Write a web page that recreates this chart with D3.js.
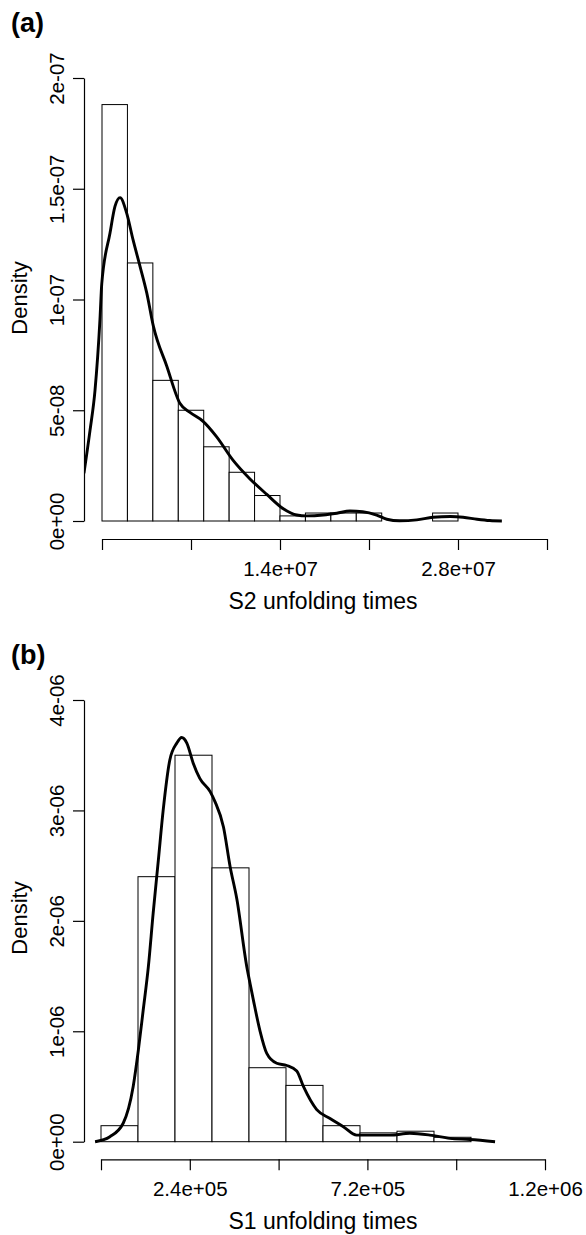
<!DOCTYPE html>
<html><head><meta charset="utf-8">
<script src="https://cdn.jsdelivr.net/npm/d3@7"></script>
<style>
body{margin:0;background:#fff}
svg{display:block}
text{font-family:"Liberation Sans",Arial,Helvetica,sans-serif;fill:#000}
</style></head><body>
<script>
// ---------- Panel (a): S2 unfolding times ----------
const binStartA = [0,2e6,4e6,6e6,8e6,10e6,12e6,14e6,16e6,18e6,20e6,22e6,24e6,26e6,28e6];
const binEndA   = [2e6,4e6,6e6,8e6,10e6,12e6,14e6,16e6,18e6,20e6,22e6,24e6,26e6,28e6,30e6];
const densA     = [1.88e-7,1.165e-7,6.35e-8,5.0e-8,3.35e-8,2.2e-8,1.15e-8,2.3e-9,3.6e-9,3.6e-9,3.6e-9,0,0,3.6e-9,0];
const kdeXA = [-1.42e6,-0.94e6,-0.55e6,-0.16e6,-0.02e6,0.63e6,1.02e6,1.42e6,1.94e6,2.44e6,2.99e6,3.52e6,4.04e6,5.09e6,6.14e6,6.92e6,7.95e6,9.02e6,10.3e6,11.64e6,12.96e6,14.26e6,15.32e6,16.1e6,17.4e6,18.47e6,19.5e6,20.5e6,21.6e6,22.4e6,23.4e6,24.76e6,26.04e6,27.4e6,28.4e6,29.5e6,30.5e6,31.45e6];
const kdeYA = [21.5e-9,41e-9,59e-9,91e-9,107e-9,130e-9,142e-9,146e-9,139e-9,127e-9,115e-9,103e-9,88e-9,70e-9,53e-9,49e-9,45e-9,38e-9,27.5e-9,19e-9,12e-9,5.5e-9,2.7e-9,2.3e-9,2.7e-9,3.5e-9,4.5e-9,4.2e-9,2.7e-9,0.8e-9,0.1e-9,0.5e-9,1.7e-9,2.0e-9,1.7e-9,0.8e-9,0.2e-9,0];
const xTicksA = [0,7e6,1.4e7,2.1e7,2.8e7,3.5e7];
const xTickLabelsA = ["","","1.4e+07","","2.8e+07",""];
const yTicksA = [0,5e-8,1e-7,1.5e-7,2e-7];
const yTickLabelsA = ["0e+00","5e-08","1e-07","1.5e-07","2e-07"];

// ---------- Panel (b): S1 unfolding times ----------
const binStartB = [0,1e5,2e5,3e5,4e5,5e5,6e5,7e5,8e5,9e5];
const binEndB   = [1e5,2e5,3e5,4e5,5e5,6e5,7e5,8e5,9e5,1e6];
const densB     = [1.45e-7,2.4e-6,3.5e-6,2.48e-6,6.7e-7,5.1e-7,1.45e-7,8e-8,9.5e-8,4e-8];
const kdeXB = [-16e3,24e3,60e3,87e3,101e3,114e3,128e3,141e3,155e3,168e3,186e3,205e3,218e3,232e3,249e3,267e3,295e3,308e3,331e3,349e3,367e3,394e3,403e3,412e3,430e3,448e3,475e3,502e3,529e3,547e3,583e3,619e3,655e3,691e3,727e3,781e3,835e3,889e3,943e3,997e3,1065e3];
const kdeYB = [0,0.045e-6,0.167e-6,0.5e-6,0.83e-6,1.19e-6,1.585e-6,2.07e-6,2.55e-6,3.0e-6,3.457e-6,3.61e-6,3.66e-6,3.61e-6,3.43e-6,3.29e-6,3.17e-6,3.08e-6,2.85e-6,2.49e-6,2.2e-6,1.585e-6,1.43e-6,1.28e-6,1.0e-6,0.8e-6,0.71e-6,0.69e-6,0.64e-6,0.5e-6,0.29e-6,0.21e-6,0.136e-6,0.06e-6,0.06e-6,0.06e-6,0.076e-6,0.06e-6,0.03e-6,0.02e-6,0];
const xTicksB = [0,2.4e5,4.8e5,7.2e5,9.6e5,1.2e6];
const xTickLabelsB = ["","2.4e+05","","7.2e+05","","1.2e+06"];
const yTicksB = [0,1e-6,2e-6,3e-6,4e-6];
const yTickLabelsB = ["0e+00","1e-06","2e-06","3e-06","4e-06"];

const W = 586, H = 1235;
const svg = d3.select("body").append("svg").attr("width", W).attr("height", H);

function panel(cfg) {
  const x = d3.scaleLinear().domain(cfg.xDomain).range(cfg.xRange);
  const y = d3.scaleLinear().domain(cfg.yDomain).range(cfg.yRange);
  const g = svg.append("g");

  // panel label
  g.append("text").attr("x", 11).attr("y", cfg.labelY).attr("font-size", 27)
    .attr("font-weight", "bold").text(cfg.label);

  // bars
  g.selectAll("rect.bar").data(cfg.dens).enter().append("rect")
    .attr("x", (d, i) => x(cfg.binStart[i]))
    .attr("width", (d, i) => x(cfg.binEnd[i]) - x(cfg.binStart[i]))
    .attr("y", d => y(d))
    .attr("height", d => y(0) - y(d))
    .attr("fill", "#fff").attr("stroke", "#000").attr("stroke-width", 1);

  // density curve (clipped to plot region)
  const cid = "clip" + cfg.label.replace(/\W/g, "");
  svg.append("clipPath").attr("id", cid).append("rect")
    .attr("x", cfg.plotLeft).attr("y", cfg.yRange[1] - 30)
    .attr("width", W - cfg.plotLeft).attr("height", cfg.yRange[0] - cfg.yRange[1] + 40);
  const line = d3.line().x(d => x(d[0])).y(d => y(d[1])).curve(d3.curveMonotoneX);
  const pts = cfg.kdeX.map((v, i) => [v, cfg.kdeY[i]]);
  g.append("path").attr("d", line(pts)).attr("clip-path", `url(#${cid})`)
    .attr("fill", "none").attr("stroke", "#000").attr("stroke-width", 2.9)
    .attr("stroke-linejoin", "round");

  // x axis
  const xa = g.append("g").attr("transform", `translate(0,${cfg.xAxisY})`)
    .call(d3.axisBottom(x).tickValues(cfg.xTicks).tickSize(11).tickSizeOuter(0)
      .tickFormat((d, i) => cfg.xTickLabels[i]));
  xa.select(".domain").attr("stroke", "#000").attr("stroke-width", 1.2);
  xa.selectAll(".tick line").attr("stroke", "#000").attr("stroke-width", 1.2);
  xa.selectAll(".tick text").attr("font-size", 20.5).attr("font-family", null)
    .attr("y", 36.5).attr("dy", null);

  // y axis
  const ya = g.append("g").attr("transform", `translate(${cfg.plotLeft},0)`)
    .call(d3.axisLeft(y).tickValues(cfg.yTicks).tickSize(11).tickSizeOuter(0)
      .tickFormat((d, i) => cfg.yTickLabels[i]));
  ya.select(".domain").attr("stroke", "#000").attr("stroke-width", 1.2);
  ya.selectAll(".tick line").attr("stroke", "#000").attr("stroke-width", 1.2);
  ya.selectAll(".tick text").attr("font-size", 20.5).attr("font-family", null)
    .attr("x", null).attr("dy", null)
    .attr("text-anchor", "middle")
    .attr("transform", `translate(${cfg.yLabelX - cfg.plotLeft},0) rotate(-90)`);

  // axis titles
  g.append("text").attr("x", cfg.titleX).attr("y", cfg.xAxisY + 70)
    .attr("text-anchor", "middle").attr("font-size", 23).text(cfg.xTitle);
  g.append("text").attr("transform", `translate(27,${cfg.densityY}) rotate(-90)`)
    .attr("text-anchor", "middle").attr("font-size", 22).text("Density");
}

panel({
  label: "(a)", labelY: 31.5,
  binStart: binStartA, binEnd: binEndA, dens: densA, kdeX: kdeXA, kdeY: kdeYA,
  xTicks: xTicksA, xTickLabels: xTickLabelsA, yTicks: yTicksA, yTickLabels: yTickLabelsA,
  xDomain: [0, 3.5e7], xRange: [102, 547],
  yDomain: [0, 2e-7], yRange: [521, 78],
  xAxisY: 539, plotLeft: 84, yLabelX: 63.5,
  titleX: 323, densityY: 298, xTitle: "S2 unfolding times"
});

panel({
  label: "(b)", labelY: 664,
  binStart: binStartB, binEnd: binEndB, dens: densB, kdeX: kdeXB, kdeY: kdeYB,
  xTicks: xTicksB, xTickLabels: xTickLabelsB, yTicks: yTicksB, yTickLabels: yTickLabelsB,
  xDomain: [0, 1.2e6], xRange: [101, 545],
  yDomain: [0, 4e-6], yRange: [1141.7, 700],
  xAxisY: 1159.3, plotLeft: 84, yLabelX: 64,
  titleX: 323, densityY: 918, xTitle: "S1 unfolding times"
});
</script>
</body></html>
